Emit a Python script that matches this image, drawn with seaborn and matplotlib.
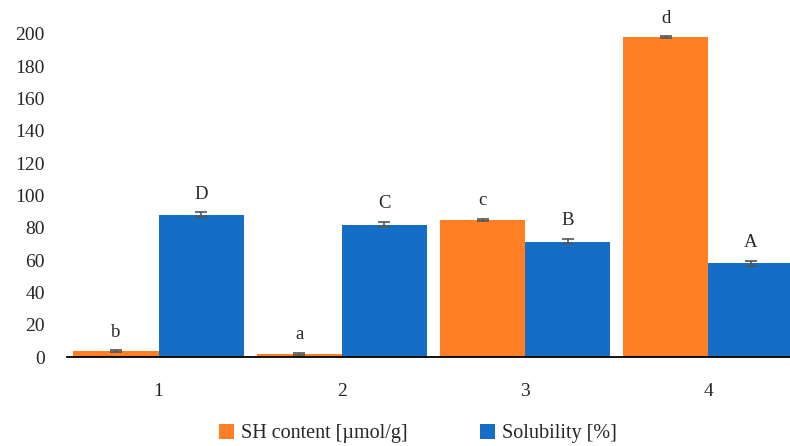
import seaborn as sns
import matplotlib.pyplot as plt
import pandas as pd

samples = ["1", "2", "3", "4"]
sh_content = [3.5, 2.0, 85.0, 198.0]
sh_err = [0.6, 0.5, 0.6, 0.6]
solubility = [88.0, 82.0, 71.5, 58.0]
sol_err = [1.5, 1.5, 1.6, 1.5]
sh_letters = ["b", "a", "c", "d"]
sol_letters = ["D", "C", "B", "A"]
series = ["SH content [µmol/g]", "Solubility [%]"]

sns.set_style("white")
plt.rcParams["font.family"] = ["Liberation Serif", "DejaVu Serif"]

df = pd.DataFrame({
    "sample": samples * 2,
    "value": sh_content + solubility,
    "err": sh_err + sol_err,
    "letter": sh_letters + sol_letters,
    "series": [series[0]] * 4 + [series[1]] * 4,
})

fig = plt.figure(figsize=(7.9, 4.46), dpi=100)
ax = fig.add_axes([67 / 790, 1 - 357 / 446, (800 - 67) / 790, 323 / 446])

sns.barplot(data=df, x="sample", y="value", hue="series",
            palette=["#FF7F22", "#146EC6"], errorbar=None,
            width=0.93, saturation=1, ax=ax, edgecolor="none")

# error bars + significance letters, matched to seaborn's bar patches
for cont, s in zip(ax.containers, series):
    sub = df[df["series"] == s]
    for bar, (_, row) in zip(cont, sub.iterrows()):
        xc = bar.get_x() + bar.get_width() / 2
        ax.errorbar(xc, row["value"], yerr=row["err"], fmt="none",
                    ecolor="#555555", elinewidth=1.2, capsize=4, capthick=1.2,
                    clip_on=False)
        ax.text(xc, row["value"] + row["err"] + 6, row["letter"],
                ha="center", va="bottom", fontsize=13.5, clip_on=False)

ax.set_ylim(0, 200)
ax.set_xlim(-0.5, 3.5)
ax.set_yticks(range(0, 201, 20))
ax.set_xlabel("")
ax.set_ylabel("")
sns.despine(ax=ax, left=True)
ax.spines["bottom"].set_color("black")
ax.spines["bottom"].set_linewidth(1.3)
ax.tick_params(axis="both", labelsize=14, length=0)
ax.tick_params(axis="x", pad=19)
ax.tick_params(axis="y", pad=16)

ax.legend(loc="lower center", ncol=2, frameon=False,
          fontsize=14.5, handlelength=0.75, handleheight=0.75,
          handletextpad=0.35, columnspacing=3.6)
ax.get_legend().set_bbox_to_anchor((418 / 790, -0.035), transform=fig.transFigure)

fig.savefig("out.png", dpi=100)
